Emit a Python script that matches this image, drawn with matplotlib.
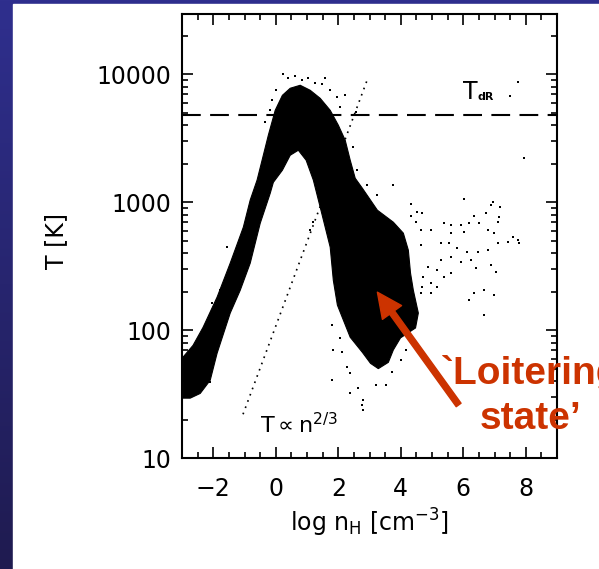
import numpy as np
import matplotlib.pyplot as plt
from matplotlib.patches import Polygon, Rectangle
from matplotlib.colors import LinearSegmentedColormap
from matplotlib.ticker import MultipleLocator, LogLocator, NullFormatter

# outline of the dense (solid black) part of the particle cloud: log n_H and T [K]
cloud_logn = [-2.97, -2.65, -2.33, -1.88, -1.46, -1.04, -0.82, -0.60, -0.44, -0.24,
              -0.02, 0.21, 0.46, 0.78, 1.10, 1.42, 1.74, 2.00, 2.22, 2.38,
              2.54, 2.77, 3.25, 3.76, 4.08, 4.24, 4.31, 4.40, 4.56, 4.47,
              3.99, 3.76, 3.60, 3.28, 3.03, 2.77, 2.38, 2.16, 1.97, 1.84,
              1.74, 1.42, 1.20, 0.97, 0.72, 0.46, 0.21, -0.08, -0.18, -0.50,
              -0.82, -1.14, -1.46, -1.88, -2.10, -2.42, -2.74, -2.97]
cloud_T = [61.5, 76, 105, 181, 334, 638, 1040, 1490, 2130, 3340,
           5230, 6850, 7780, 8210, 7500, 6490, 5230, 4000, 3050, 2130,
           1540, 1285, 866, 698, 573, 422, 279, 205, 136, 104,
           87, 70, 56, 50, 55, 67, 88, 120, 157, 245,
           445, 914, 1490, 2130, 2550, 2330, 1780, 1430, 1175, 685,
           334, 205, 136, 66, 40.6, 32, 29.4, 29.4]

# loose particles outside the dense region
loose_logn = [6.01, 6.94, 7.16, 6.87, 4.34, 3.76, 2.93, 3.25, 6.71, 6.33,
              7.13, 7.10, 5.37, 5.59, 5.91, 6.17, 6.49, 4.95, 6.01, 5.59,
              6.78, 6.97, 7.58, 7.74, 7.77, 7.42, 7.10, 5.27, 5.53, 4.63,
              5.81, 6.13, 6.46, 6.78, 6.23, 5.91, 5.59, 5.27, 4.88, 5.17,
              5.59, 4.72, 5.37, 4.95, 4.69, 5.17, 4.95, 6.33, 6.65, 6.97,
              6.17, 4.63, 6.65, 7.03, 6.87, 6.39, 4.34, 4.53, 4.69, 4.47,
              4.63, 7.74, 7.48, 7.93, 0.24, 0.40, 0.62, 0.85, 1.04, 1.26,
              1.49, 1.74, 1.97, 2.06, 2.48, 2.61, 0.01, -0.12, 2.38, 2.80,
              2.80, 2.77, 2.38, 2.29, 1.81, 1.84, 1.81, 1.20, 1.10, -1.56,
              -1.78, -2.04, -1.88, -2.10, 3.51, 3.99, 4.15, 3.73, 3.19, 2.64,
              2.13, 2.06, 2.58, 2.22, 1.58, -0.18, -0.34]
loose_T = [1055, 1000, 914, 948, 965, 1358, 1358, 1135, 820, 778,
           764, 698, 685, 661, 661, 685, 685, 604, 583, 573,
           604, 573, 533, 505, 478, 487, 478, 478, 478, 461,
           437, 407, 407, 422, 352, 340, 372, 352, 310, 294,
           279, 259, 259, 233, 217, 217, 195, 195, 205, 188,
           172, 195, 131, 284, 322, 305, 778, 836, 820, 698,
           604, 8660, 6730, 2210, 10000, 9300, 9640, 8980, 9300, 8510,
           8360, 7500, 6610, 5520, 2690, 1780, 7500, 6270, 32.2, 28.4,
           23.7, 25.9, 46.1, 51.4, 40.7, 69.8, 109, 698, 604, 445,
           205, 163, 151, 39.3, 37.2, 58.3, 69.8, 47.0, 37.2, 35.2,
           67.3, 86.6, 5040, 6850, 9300, 5230, 4220]

# T ~ n^(2/3) guide line (end points)
adiabat_logn = [-1.05, 2.95]
adiabat_T = [22, 9400]

T_dR = 4800

xticks = [-2, 0, 2, 4, 6, 8]
yticks = [10, 100, 1000, 10000]
ytick_labels = ['10', '100', '1000', '10000']

red = '#CC3300'

fig = plt.figure(figsize=(5.99, 5.69), dpi=100)

# slide background: blue gradient frame with white panel
bg = fig.add_axes([0, 0, 1, 1], zorder=-10)
grad = np.linspace(0, 1, 256).reshape(-1, 1)
cmap = LinearSegmentedColormap.from_list('slide', ['#2F2F8E', '#1F1B50'])
bg.imshow(grad, aspect='auto', cmap=cmap, extent=[0, 1, 0, 1], origin='upper')
bg.add_patch(Rectangle((0.022, 0), 1, 0.993, color='white'))
bg.set_xlim(0, 1)
bg.set_ylim(0, 1)
bg.axis('off')

ax = fig.add_axes([0.304, 0.195, 0.626, 0.780])
ax.set_yscale('log')

ax.add_patch(Polygon(np.column_stack([cloud_logn, cloud_T]), closed=True,
                     facecolor='black', edgecolor='black', lw=0.8))
ax.scatter(loose_logn, loose_T, s=4, marker='s', c='black', linewidths=0)
ax.plot(adiabat_logn, adiabat_T, color='black', ls=(0, (1, 3)), lw=1.2)
ax.axhline(T_dR, color='black', lw=1.5, dashes=(9, 4.5))

ax.text(-0.5, 15.7, r'T$\propto$n$^{2/3}$', fontsize=16)
ax.text(6.0, 6460, 'T', fontsize=17)
ax.text(6.46, 6270, 'dR', fontsize=8, fontweight='bold')

ax.set_xlim(-3, 9)
ax.set_ylim(10, 29500)
ax.set_xticks(xticks)
ax.xaxis.set_minor_locator(MultipleLocator(0.5))
ax.set_yticks(yticks)
ax.set_yticklabels(ytick_labels)
ax.yaxis.set_minor_locator(LogLocator(base=10, subs=np.arange(2, 10)))
ax.yaxis.set_minor_formatter(NullFormatter())
ax.tick_params(which='both', direction='in', top=True, right=True,
               labelsize=17, width=1.2)
ax.tick_params(which='major', length=8)
ax.tick_params(which='minor', length=4.5)
ax.tick_params(axis='x', pad=14)
ax.tick_params(axis='y', pad=8)
for s in ax.spines.values():
    s.set_linewidth(1.5)

ax.set_xlabel(r'log n$_{\rm H}$ [cm$^{-3}$]', fontsize=17)
ax.set_ylabel('T [K]', fontsize=17)
ax.xaxis.set_label_coords(0.5, -0.11)
ax.yaxis.set_label_coords(-0.305, 0.49)

# red callout (the first line runs off the slide edge, as in the original)
ax.annotate('', xy=(3.25, 198), xytext=(5.85, 26), annotation_clip=False,
            arrowprops=dict(width=4.3, headwidth=17, headlength=18,
                            shrink=0, color=red))
fig.text(0.885, 0.304, "`Loitering\nstate\u2019", ha='center', va='center',
         multialignment='center', fontsize=28, fontweight='bold', color=red,
         family='Liberation Sans', linespacing=1.35)

fig.savefig('out.png', dpi=100)
